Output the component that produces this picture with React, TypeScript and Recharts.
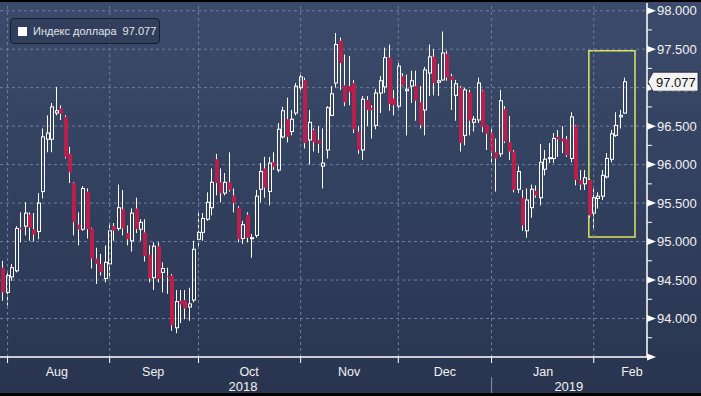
import React from "react";
import { Bar, CartesianGrid, ComposedChart, ReferenceArea, ReferenceLine, XAxis, YAxis } from "recharts";

// daily OHLC of the dollar index, one bar per trading day (31 Jul 2018 .. 12 Feb 2019)
const OPEN = [
  94.66, 94.34, 94.54, 94.62, 95.18, 95.2, 95.35, 95.16, 95.13, 95.65,
  96.33, 96.33, 96.67, 96.73, 96.62, 96.14, 95.76, 95.22, 95.16, 95.65,
  95.17, 94.78, 94.71, 94.52, 94.71, 95.2, 95.17, 95.42, 95.11, 95.01,
  95.43, 95.16, 95.12, 94.83, 94.53, 94.94, 94.6, 94.55, 94.56, 93.88,
  94.23, 94.24, 94.15, 94.24, 95.03, 95.12, 95.29, 95.44, 96.07, 95.77,
  95.63, 95.77, 95.6, 95.44, 95.04, 95.35, 95.04, 95.08, 95.68, 95.95,
  95.65, 96.03, 95.93, 96.36, 96.59, 96.43, 96.67, 97.0, 97.1, 96.32,
  96.45, 96.32, 95.98, 96.19, 96.64, 97.06, 97.61, 97.03, 97.02, 97.06,
  96.43, 96.19, 96.84, 96.74, 96.51, 96.93, 97.01, 97.39, 96.86, 96.76,
  97.15, 96.96, 97.02, 97.02, 96.81, 96.71, 97.19, 97.4, 97.07, 97.1,
  97.44, 97.15, 96.9, 97.0, 96.38, 96.94, 96.55, 96.58, 96.96, 96.51,
  96.41, 96.16, 96.14, 96.72, 96.29, 96.17, 95.68, 95.57, 95.14, 95.44,
  95.66, 95.57, 95.94, 96.08, 96.08, 96.36, 96.34, 96.33, 96.08, 96.5,
  95.8, 95.75, 95.8, 95.37, 95.56, 95.59, 95.84, 96.07, 96.38, 96.62, 96.67,
];
const HIGH = [
  94.75, 94.62, 94.71, 95.2, 95.38, 95.51, 95.38, 95.37, 95.63, 96.47,
  96.64, 96.8, 97.01, 96.77, 96.64, 96.23, 95.77, 95.38, 95.72, 95.69,
  95.18, 94.92, 94.84, 94.95, 95.24, 95.24, 95.74, 95.67, 95.21, 95.43,
  95.57, 95.29, 95.29, 94.95, 94.99, 94.99, 94.73, 94.66, 94.58, 94.37,
  94.37, 94.37, 94.4, 95.01, 95.37, 95.37, 95.64, 95.95, 96.14, 95.95,
  95.89, 96.16, 95.69, 95.46, 95.27, 95.38, 95.1, 95.67, 96.02, 96.1,
  96.1, 96.16, 96.54, 96.75, 96.87, 96.71, 97.06, 97.2, 97.13, 96.71,
  96.47, 96.5, 96.47, 96.76, 97.02, 97.71, 97.65, 97.43, 97.41, 97.1,
  96.5, 96.89, 96.89, 96.77, 96.98, 97.15, 97.52, 97.56, 96.97, 97.32,
  97.19, 97.17, 97.22, 97.22, 97.02, 97.27, 97.56, 97.5, 97.31, 97.73,
  97.48, 97.18, 97.1, 97.02, 97.0, 96.97, 96.63, 97.13, 96.97, 96.51,
  96.47, 96.34, 96.97, 96.76, 96.63, 96.19, 95.98, 95.67, 95.69, 95.74,
  95.73, 96.27, 96.19, 96.28, 96.41, 96.45, 96.5, 96.37, 96.68, 96.51,
  95.93, 95.93, 95.82, 95.69, 95.64, 95.93, 96.15, 96.45, 96.68, 96.71, 97.13,
];
const LOW = [
  94.23, 94.17, 94.49, 94.6, 94.99, 95.08, 95.01, 95.0, 95.03, 95.56,
  96.16, 96.16, 96.64, 96.58, 96.08, 95.76, 95.08, 94.95, 95.14, 95.04,
  94.65, 94.45, 94.56, 94.47, 94.53, 95.01, 95.14, 95.08, 94.95, 94.87,
  95.11, 95.01, 94.74, 94.47, 94.37, 94.47, 94.34, 94.32, 93.84, 93.81,
  93.94, 93.99, 93.97, 94.21, 94.92, 95.01, 95.27, 95.34, 95.6, 95.51,
  95.6, 95.65, 95.38, 94.99, 94.97, 94.99, 94.79, 95.05, 95.51, 95.57,
  95.47, 95.93, 95.9, 96.34, 96.29, 96.38, 96.64, 96.97, 96.21, 96.0,
  96.17, 96.15, 95.69, 96.08, 96.63, 97.0, 96.97, 96.76, 96.77, 96.41,
  96.14, 96.06, 96.5, 96.34, 96.46, 96.67, 96.93, 96.7, 96.64, 96.7,
  97.02, 96.38, 96.8, 96.57, 96.47, 96.38, 96.89, 96.9, 96.89, 97.09,
  97.09, 96.71, 96.57, 96.17, 96.25, 96.38, 96.43, 96.54, 96.42, 96.19,
  96.0, 95.65, 96.1, 96.28, 96.06, 95.64, 95.63, 95.14, 95.05, 95.31,
  95.57, 95.47, 95.86, 96.02, 96.02, 96.1, 96.15, 96.1, 96.03, 95.73,
  95.67, 95.67, 95.31, 95.17, 95.43, 95.54, 95.82, 96.03, 96.36, 96.47, 96.66,
];
const CLOSE = [
  94.34, 94.56, 94.66, 95.17, 95.16, 95.37, 95.18, 95.09, 95.5, 96.36,
  96.41, 96.75, 96.7, 96.66, 96.1, 95.9, 95.25, 95.16, 95.69, 95.16,
  94.78, 94.71, 94.6, 94.73, 95.14, 95.14, 95.44, 95.17, 95.03, 95.37,
  95.16, 95.25, 94.81, 94.52, 94.94, 94.51, 94.65, 94.54, 93.91, 94.22,
  94.18, 94.13, 94.19, 94.9, 95.12, 95.3, 95.51, 95.77, 95.76, 95.63,
  95.77, 95.67, 95.5, 95.03, 95.22, 95.05, 95.05, 95.59, 95.91, 95.7,
  96.02, 95.97, 96.46, 96.7, 96.36, 96.59, 97.02, 97.14, 96.28, 96.55,
  96.29, 96.27, 96.02, 96.74, 96.92, 97.56, 97.32, 96.81, 96.94, 96.46,
  96.19, 96.85, 96.71, 96.71, 96.93, 97.09, 97.39, 96.79, 96.77, 97.28,
  97.03, 96.98, 97.09, 96.83, 96.51, 97.23, 97.4, 97.06, 97.09, 97.45,
  97.13, 97.1, 97.05, 96.28, 96.97, 96.57, 96.59, 97.06, 96.49, 96.4,
  96.17, 96.08, 96.83, 96.3, 96.17, 95.67, 95.91, 95.21, 95.54, 95.68,
  95.6, 96.03, 96.07, 96.09, 96.34, 96.33, 96.3, 96.12, 96.62, 95.8,
  95.74, 95.83, 95.34, 95.57, 95.59, 95.86, 96.08, 96.4, 96.51, 96.64, 97.077,
];

// bar index of the first trading day of each month
const MONTH_STARTS = [1, 24, 44, 67, 89, 110, 133];
const MONTH_LABELS = ["Aug", "Sep", "Oct", "Nov", "Dec", "Jan", "Feb"];
const MONTH_MIDS = [12.1, 33.8, 55.4, 77.9, 99.5, 121.6, 141.6];
const YEAR_LABELS = ["2018", "2019"];
const YEAR_MIDS = [54, 127.4];
const YEAR_START = 110;

const Y_TICKS = [
  93.5, 93.75, 94, 94.25, 94.5, 94.75, 95, 95.25, 95.5, 95.75,
  96, 96.25, 96.5, 96.75, 97, 97.25, 97.5, 97.75, 98,
];
const GRID_VALUES = [94, 94.5, 95, 95.5, 96, 96.5, 97, 97.5, 98];

const data = CLOSE.map((close, i) => ({
  i,
  open: OPEN[i],
  high: HIGH[i],
  low: LOW[i],
  close,
}));
const last = CLOSE[CLOSE.length - 1];
// the axis level hidden behind the last-price tag, drawn under the tag instead
const covered = Math.round(last * 2) / 2;

const FONT = "'Liberation Sans', Arial, sans-serif";
const UP = "#ffffff";
const DOWN = "#b81f4b";
const GRID = "#6f7e9c";

function Candle(props: any) {
  const { x, y, width, height, payload } = props;
  const { open, close, high, low } = payload;
  const top = Math.min(y, y + height);
  const bot = Math.max(y, y + height);
  const toY = (v: number) => top + ((high - v) / (high - low)) * (bot - top);
  const px = Math.floor(x + width / 2);
  const wx = px + 0.5;
  const yO = toY(open);
  const yC = toY(close);
  const bTop = Math.min(yO, yC);
  const bBot = Math.max(yO, yC, bTop + 1);
  if (close >= open) {
    return (
      <g>
        <line x1={wx} x2={wx} y1={top} y2={bTop} stroke={UP} />
        <line x1={wx} x2={wx} y1={bBot} y2={bot} stroke={UP} />
        <rect x={px - 0.5} y={bTop} width={3} height={bBot - bTop} fill="none" stroke={UP} />
      </g>
    );
  }
  return (
    <g>
      <line x1={wx} x2={wx} y1={top} y2={bot} stroke={UP} />
      <rect x={px - 1} y={bTop} width={4} height={bBot - bTop} fill={DOWN} />
    </g>
  );
}

function LevelMark({ x, y, v }: { x: number; y: number; v: number }) {
  return (
    <g>
      <path d={`M${x},${y - 3.5}L${x + 9},${y}L${x},${y + 3.5}Z`} fill="#fff" />
      {v >= 94 && (
        <text x={x + 10} y={y + 4.5} fill="#f2f2f2" fontSize={13} fontFamily={FONT}>
          {v.toFixed(3)}
        </text>
      )}
    </g>
  );
}

function PriceTick({ x, y, payload }: any) {
  const v = payload.value;
  if (v % 0.5 !== 0) {
    return <line x1={x} x2={x + 5} y1={y} y2={y} stroke="#fff" />;
  }
  if (v === covered) return <g />;
  return <LevelMark x={x} y={y} v={v} />;
}

function CoveredLevel({ viewBox, v }: any) {
  return <LevelMark x={viewBox.x + viewBox.width} y={viewBox.y} v={v} />;
}

function DateTick({ x, y, payload }: any) {
  const m = MONTH_MIDS.indexOf(payload.value);
  if (m >= 0) {
    return (
      <text x={x} y={y + 19} textAnchor="middle" fill="#f2f2f2" fontSize={12.5} fontFamily={FONT}>
        {MONTH_LABELS[m]}
      </text>
    );
  }
  const k = YEAR_MIDS.indexOf(payload.value);
  return (
    <text x={x} y={y + 34} textAnchor="middle" fill="#f2f2f2" fontSize={13} fontFamily={FONT}>
      {YEAR_LABELS[k]}
    </text>
  );
}

function MonthEdge({ viewBox, year }: any) {
  const { x, y, height } = viewBox;
  const b = y + height;
  return (
    <g>
      <line x1={x} x2={x} y1={b} y2={b + 6} stroke="#fff" />
      {year && <line x1={x} x2={x} y1={b + 20} y2={b + 37} stroke="#8593ad" />}
    </g>
  );
}

function LastTag({ viewBox, value }: any) {
  const x = viewBox.x + viewBox.width;
  const y = viewBox.y;
  return (
    <g>
      <path
        d={`M${x + 1},${y}L${x + 6},${y - 9.5}H${x + 51}V${y + 9.5}H${x + 6}Z`}
        fill="#f3f3f3"
        stroke="#1b2131"
        strokeWidth={0.8}
      />
      <text x={x + 9} y={y + 5} fill="#111" fontSize={13} fontFamily={FONT}>
        {value}
      </text>
    </g>
  );
}

export default function App() {
  return (
    <div
      style={{
        position: "relative",
        width: 701,
        height: 396,
        background: "linear-gradient(180deg, #3c4b6b 0%, #2f3d5b 65%, #29354f 100%)",
        fontFamily: FONT,
      }}
    >
      <style>{"body{margin:0}"}</style>
      <ComposedChart width={701} height={396} data={data} margin={{ top: 3, right: 0, bottom: 0, left: 0 }}>
        <CartesianGrid vertical={false} horizontalValues={GRID_VALUES} stroke={GRID} strokeDasharray="3 3" />
        <XAxis
          dataKey="i"
          type="number"
          domain={[-0.7, 145]}
          ticks={[...MONTH_MIDS, ...YEAR_MIDS]}
          interval={0}
          height={39}
          tickSize={0}
          tickMargin={0}
          tickLine={false}
          axisLine={{ stroke: "#fff", strokeWidth: 1.5 }}
          tick={<DateTick />}
        />
        <YAxis
          orientation="right"
          type="number"
          domain={[93.5, 98.1]}
          ticks={Y_TICKS}
          interval={0}
          width={54}
          tickSize={0}
          tickMargin={0}
          tickLine={false}
          axisLine={{ stroke: "#fff", strokeWidth: 1.5 }}
          tick={<PriceTick />}
        />
        {MONTH_STARTS.map((m) => (
          <ReferenceLine
            key={m}
            x={m}
            stroke={GRID}
            strokeDasharray="3 3"
            label={<MonthEdge year={m === YEAR_START} />}
          />
        ))}
        <Bar
          dataKey={(d: any) => [d.low, d.high]}
          barSize={4}
          shape={<Candle />}
          isAnimationActive={false}
        />
        <ReferenceArea x1={131.9} x2={142.3} y1={95.06} y2={97.48} fill="none" stroke="#dfe45c" strokeWidth={1.5} />
        <ReferenceLine y={covered} stroke="none" label={<CoveredLevel v={covered} />} />
        <ReferenceLine y={last} stroke="none" label={<LastTag value={last.toFixed(3)} />} />
      </ComposedChart>
      <div
        style={{
          position: "absolute",
          left: 10,
          top: 18,
          width: 148,
          height: 24,
          border: "1px solid #161d2c",
          borderRadius: 4,
          background: "rgba(44, 57, 84, 0.6)",
          display: "flex",
          alignItems: "center",
          fontSize: 11,
          color: "#e1e4ea",
          whiteSpace: "pre",
        }}
      >
        <span
          style={{
            display: "inline-block",
            flex: "0 0 9px",
            width: 9,
            height: 9,
            background: "#fff",
            marginLeft: 7,
            marginRight: 6,
          }}
        />
        <span>{`Индекс доллара  ${last.toFixed(3)}`}</span>
      </div>
      <div style={{ position: "absolute", left: 0, top: 0, width: 701, height: 2, background: "#000" }} />
      <div style={{ position: "absolute", left: 0, top: 393, width: 701, height: 3, background: "#000" }} />
    </div>
  );
}
